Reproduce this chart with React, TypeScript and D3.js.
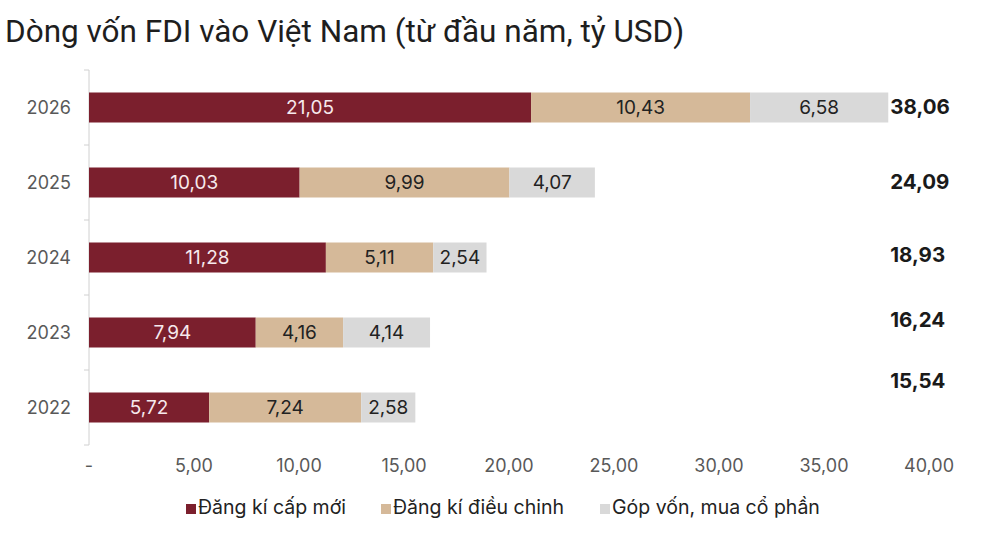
import * as d3 from 'd3';

const W = 1000;
const H = 534;

const years = ['2026', '2025', '2024', '2023', '2022'];
const newReg = [21.05, 10.03, 11.28, 7.94, 5.72];
const adjusted = [10.43, 9.99, 5.11, 4.16, 7.24];
const shares = [6.58, 4.07, 2.54, 4.14, 2.58];
const totals = [38.06, 24.09, 18.93, 16.24, 15.54];
const seriesNames = ['Đăng kí cấp mới', 'Đăng kí điều chinh', 'Góp vốn, mua cổ phần'];
const xTicks = [0, 5, 10, 15, 20, 25, 30, 35, 40];

const colors = ['#7b1f2d', '#d5b999', '#d9d9d9'];
const labelColors = ['#f6e9ec', '#222222', '#222222'];
// the totals sit a little off the bar centre in the original
const totalNudge = [-1, -1, -3, -13, -27];

const fmt = (v: number) => (v === 0 ? '-' : v.toFixed(2).replace('.', ','));

const App = () => {
  const x = d3.scaleLinear().domain([0, 40]).range([89, 929]);
  const y = d3.scaleBand<string>().domain(years).range([70, 445]).paddingInner(0.6).paddingOuter(0.3);

  const rows = years.map((yr, i) => ({ year: yr, v0: newReg[i], v1: adjusted[i], v2: shares[i] }));
  const stack = d3.stack<(typeof rows)[number]>().keys(['v0', 'v1', 'v2']);
  const layers = stack(rows);

  const boundaries = years.map(yr => (y(yr) as number) - (y.step() * y.paddingInner()) / 2);
  boundaries.push((y(years[years.length - 1]) as number) + y.bandwidth() + (y.step() * y.paddingInner()) / 2);

  const legendX = [186, 381, 600];

  return (
    <div style={{ position: 'absolute', left: 0, top: 0 }}>
      <svg width={W} height={H} style={{ display: 'block', background: '#fff' }}>
        <text x={5} y={42} fontFamily="Roboto, sans-serif" fontSize={31.5} fill="#1e1e1e">
          Dòng vốn FDI vào Việt Nam (từ đầu năm, tỷ USD)
        </text>

        {/* category axis */}
        <line x1={89} x2={89} y1={boundaries[0]} y2={boundaries[boundaries.length - 1]} stroke="#d0d0d0" />
        {boundaries.map((b, i) => (
          <line key={i} x1={84} x2={89} y1={b} y2={b} stroke="#d0d0d0" />
        ))}
        {years.map(yr => (
          <text
            key={yr}
            x={71}
            y={(y(yr) as number) + y.bandwidth() / 2}
            dy="0.35em"
            textAnchor="end"
            fontFamily="Inter, sans-serif"
            fontSize={18}
            fill="#595959"
          >
            {yr}
          </text>
        ))}

        {/* bars */}
        {layers.map((layer, li) =>
          layer.map((d, i) => {
            const x0 = x(d[0]);
            const x1 = x(d[1]);
            const yy = y(years[i]) as number;
            return (
              <g key={`${li}-${i}`}>
                <rect x={x0} y={yy} width={x1 - x0} height={y.bandwidth()} fill={colors[li]} />
                <text
                  x={(x0 + x1) / 2}
                  y={yy + y.bandwidth() / 2}
                  dy="0.36em"
                  textAnchor="middle"
                  fontFamily="Inter, sans-serif"
                  fontSize={19}
                  fill={labelColors[li]}
                >
                  {fmt(d[1] - d[0])}
                </text>
              </g>
            );
          }),
        )}

        {/* totals */}
        {totals.map((t, i) => (
          <text
            key={i}
            x={x(d3.max(totals) as number) + 2}
            y={(y(years[i]) as number) + y.bandwidth() / 2 + totalNudge[i]}
            dy="0.36em"
            fontFamily="Inter, sans-serif"
            fontWeight={700}
            fontSize={20.5}
            fill="#1a1a1a"
          >
            {fmt(t)}
          </text>
        ))}

        {/* value axis labels */}
        {xTicks.map(t => (
          <text
            key={t}
            x={x(t)}
            y={466}
            dy="0.35em"
            textAnchor="middle"
            fontFamily="Inter, sans-serif"
            fontSize={18}
            fill="#595959"
          >
            {fmt(t)}
          </text>
        ))}

        {/* legend */}
        {seriesNames.map((name, i) => (
          <g key={name} transform={`translate(${legendX[i]},507)`}>
            <rect x={0} y={-3} width={10} height={10} fill={colors[i]} />
            <text x={12} y={0} dy="0.35em" fontFamily="Inter, sans-serif" fontSize={19.5} fill="#222">
              {name}
            </text>
          </g>
        ))}
      </svg>
    </div>
  );
};

export default App;
